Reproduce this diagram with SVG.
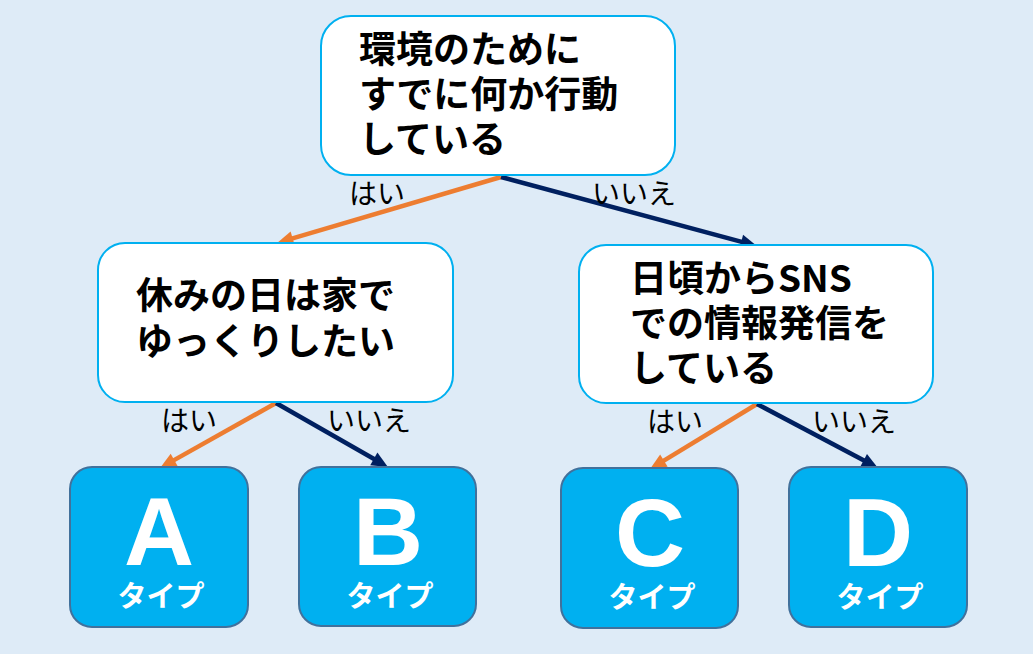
<svg xmlns="http://www.w3.org/2000/svg" width="1033" height="654" viewBox="0 0 1033 654">
<defs>
<style>
.q{fill:#FFFFFF;stroke:#00B0F0;stroke-width:2}
.t{fill:#00B0F0;stroke:#41719C;stroke-width:2}
.qt{font-family:"Noto Sans CJK JP","Noto Sans",sans-serif;font-weight:bold;font-size:37px;fill:#000000}
.lbl{font-family:"Noto Sans CJK JP","Noto Sans",sans-serif;font-size:28px;fill:#000000}
.big{font-family:"Liberation Sans",Arial,sans-serif;font-weight:bold;font-size:97px;fill:#FFFFFF;text-anchor:middle}
.typ{font-family:"Noto Sans CJK JP","Noto Sans",sans-serif;font-weight:bold;font-size:29px;fill:#FFFFFF;text-anchor:middle}
.yes{stroke:#ED7D31;stroke-width:4.5;fill:none;marker-end:url(#ao)}
.no{stroke:#002060;stroke-width:4.5;fill:none;marker-end:url(#an)}
</style>
<marker id="ao" markerUnits="strokeWidth" markerWidth="3.6" markerHeight="3.2" refX="1.4" refY="1.6" orient="auto" overflow="visible">
<path d="M0,0 L3.6,1.6 L0,3.2 z" fill="#ED7D31"/>
</marker>
<marker id="an" markerUnits="strokeWidth" markerWidth="3.6" markerHeight="3.2" refX="1.4" refY="1.6" orient="auto" overflow="visible">
<path d="M0,0 L3.6,1.6 L0,3.2 z" fill="#002060"/>
</marker>
</defs>
<rect x="0" y="0" width="1033" height="654" fill="#DEEBF7"/>

<g id="connectors">
<line class="yes" x1="501" y1="177" x2="286.6" y2="240.2"/>
<line class="no" x1="501" y1="177" x2="747.3" y2="243.4"/>
<line class="yes" x1="276" y1="403" x2="168.7" y2="463.1"/>
<line class="no" x1="276" y1="403" x2="379.3" y2="462.0"/>
<line class="yes" x1="757" y1="404" x2="658.5" y2="463.8"/>
<line class="no" x1="757" y1="404" x2="869.2" y2="463.3"/>
<text class="lbl" x="349" y="204">はい</text>
<text class="lbl" x="592" y="204">いいえ</text>
<text class="lbl" x="161" y="431">はい</text>
<text class="lbl" x="327" y="431">いいえ</text>
<text class="lbl" x="647" y="432">はい</text>
<text class="lbl" x="812" y="432">いいえ</text>
</g>

<g id="q1">
<rect class="q" x="321" y="16" width="354" height="159" rx="30"/>
<text class="qt"><tspan x="359" y="63">環境のために</tspan><tspan x="359" y="108">すでに何か行動</tspan><tspan x="359" y="153">している</tspan></text>
</g>

<g id="q2">
<rect class="q" x="98" y="243" width="355" height="159" rx="27"/>
<text class="qt"><tspan x="136" y="309">休みの日は家で</tspan><tspan x="136" y="355">ゆっくりしたい</tspan></text>
</g>

<g id="q3">
<rect class="q" x="579" y="245" width="354" height="158" rx="27"/>
<text class="qt"><tspan x="630" y="292">日頃からSNS</tspan><tspan x="630" y="337">での情報発信を</tspan><tspan x="630" y="382">している</tspan></text>
</g>

<g id="typeA">
<rect class="t" x="70" y="467" width="178" height="160" rx="22"/>
<text class="big" x="159" y="565">A</text>
<text class="typ" x="161" y="607">タイプ</text>
</g>

<g id="typeB">
<rect class="t" x="299" y="467" width="177" height="159" rx="22"/>
<text class="big" x="388" y="565">B</text>
<text class="typ" x="390" y="607">タイプ</text>
</g>

<g id="typeC">
<rect class="t" x="561" y="468" width="177" height="160" rx="22"/>
<text class="big" x="650" y="566">C</text>
<text class="typ" x="652" y="608">タイプ</text>
</g>

<g id="typeD">
<rect class="t" x="789" y="467" width="178" height="160" rx="22"/>
<text class="big" x="878" y="566">D</text>
<text class="typ" x="880" y="608">タイプ</text>
</g>
</svg>
